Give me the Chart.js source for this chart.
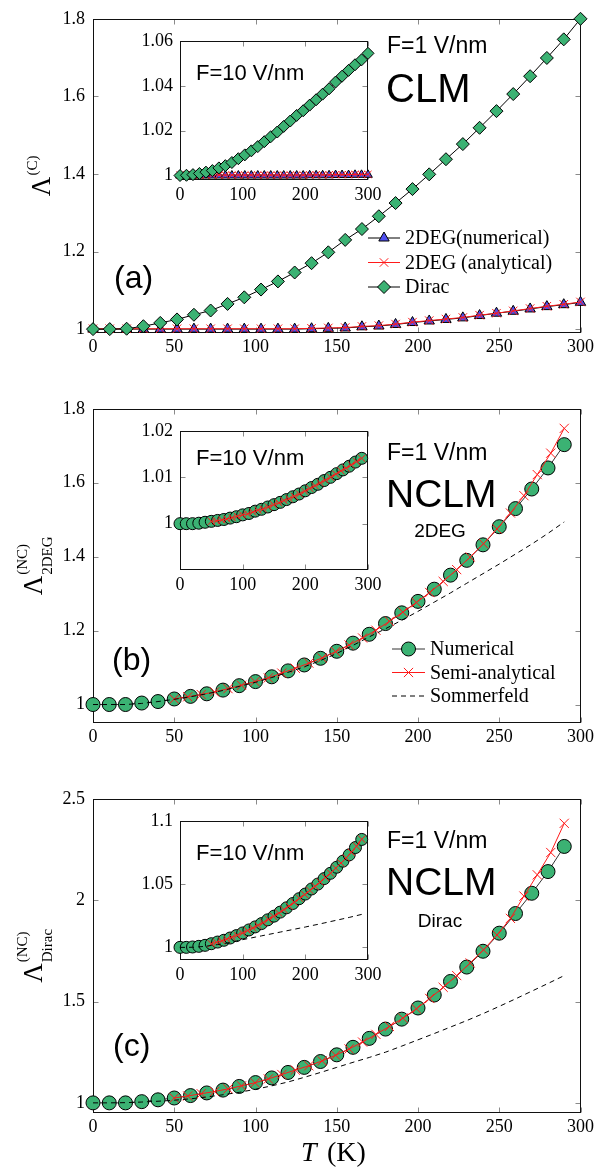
<!DOCTYPE html>
<html lang="en">
<head>
<meta charset="UTF-8">
<title>Lambda vs T</title>
<script src="https://cdn.jsdelivr.net/npm/chart.js"></script>
<style>
  body { margin: 0; background: #fff; }
  #figure { position: relative; width: 597px; height: 1174px; overflow: hidden; }
  #figure canvas { position: absolute; }
</style>
</head>
<body>
<div id="figure">
  <canvas id="clm"></canvas>
  <canvas id="nclm-2deg"></canvas>
  <canvas id="nclm-dirac"></canvas>
  <canvas id="clm-inset"></canvas>
  <canvas id="nclm-2deg-inset"></canvas>
  <canvas id="nclm-dirac-inset"></canvas>
</div>
<script>
// temperature grids (K)
const tempClm = [0, 10.3, 20.7, 31.0, 41.4, 51.7, 62.1, 72.4, 82.8, 93.1, 103.4, 113.8, 124.1, 134.5, 144.8,
  155.2, 165.5, 175.9, 186.2, 196.6, 206.9, 217.2, 227.6, 237.9, 248.3, 258.6, 269.0, 279.3, 289.7, 300];
const tempNum = [0, 10, 20, 30, 40, 50, 60, 70, 80, 90, 100, 110, 120, 130, 140,
  150, 160, 170, 180, 190, 200, 210, 220, 230, 240, 250, 260, 270, 280, 290];
const tempSemi = [50, 58.3, 66.6, 74.8, 83.1, 91.4, 99.7, 107.9, 116.2, 124.5, 132.8, 141.0, 149.3, 157.6, 165.9,
  174.1, 182.4, 190.7, 199.0, 207.2, 215.5, 223.8, 232.1, 240.3, 248.6, 256.9, 265.2, 273.4, 281.7, 290];

// (a) CLM, F = 1 V/nm
const clm2degNumF1 = [1.000, 1.000, 1.000, 1.000, 1.000, 1.000, 1.000, 1.000, 1.000, 1.000, 1.000, 1.000, 1.000, 1.001, 1.002,
  1.003, 1.006, 1.008, 1.012, 1.017, 1.021, 1.025, 1.029, 1.035, 1.041, 1.046, 1.052, 1.058, 1.063, 1.069];
const clm2degAnaF1 = [1.001, 1.001, 1.001, 1.001, 1.001, 1.001, 1.001, 1.001, 1.001, 1.001, 1.001, 1.001, 1.001, 1.002, 1.003,
  1.004, 1.007, 1.009, 1.013, 1.018, 1.022, 1.026, 1.030, 1.036, 1.041, 1.047, 1.053, 1.059, 1.064, 1.070];
const clmDiracF1 = [1.000, 1.000, 1.001, 1.0075, 1.016, 1.025, 1.037, 1.048, 1.065, 1.082, 1.102, 1.123, 1.146, 1.170, 1.198,
  1.230, 1.258, 1.291, 1.325, 1.361, 1.399, 1.438, 1.477, 1.519, 1.562, 1.606, 1.652, 1.699, 1.747, 1.800];
// (a) inset, F = 10 V/nm
const clm2degNumF10 = [1.0000, 1.0000, 1.0000, 1.0000, 1.0000, 1.0000, 1.0000, 1.0000, 1.0000, 1.0000, 1.0000, 1.0000, 1.0000, 1.0000, 1.0000,
  1.0000, 1.0000, 1.0000, 1.0000, 1.0000, 1.0001, 1.0001, 1.0001, 1.0001, 1.0002, 1.0002, 1.0002, 1.0003, 1.0003, 1.0003];
const clm2degAnaF10 = [1.0002, 1.0002, 1.0002, 1.0002, 1.0002, 1.0002, 1.0002, 1.0002, 1.0002, 1.0002, 1.0002, 1.0002, 1.0002, 1.0002, 1.0002,
  1.0002, 1.0002, 1.0002, 1.0002, 1.0002, 1.0003, 1.0003, 1.0003, 1.0003, 1.0004, 1.0004, 1.0004, 1.0005, 1.0005, 1.0005];
const clmDiracF10 = [1.0000, 1.0001, 1.0004, 1.0009, 1.0015, 1.0022, 1.0034, 1.0044, 1.0058, 1.0075, 1.0092, 1.0110, 1.0129, 1.0151, 1.0173,
  1.0194, 1.0219, 1.0243, 1.0268, 1.0289, 1.0314, 1.0338, 1.0363, 1.0387, 1.0417, 1.0443, 1.0469, 1.0494, 1.0516, 1.0545];

// (b) NCLM 2DEG, F = 1 V/nm
const nc2degNumF1 = [1.000, 1.000, 1.000, 1.004, 1.008, 1.015, 1.022, 1.029, 1.039, 1.051, 1.062, 1.075, 1.091, 1.107, 1.125,
  1.144, 1.166, 1.190, 1.219, 1.248, 1.279, 1.312, 1.350, 1.390, 1.432, 1.481, 1.530, 1.583, 1.640, 1.703];
const nc2degSemiF1 = [1.015, 1.021, 1.027, 1.034, 1.043, 1.052, 1.062, 1.072, 1.085, 1.098, 1.112, 1.126, 1.143, 1.161, 1.180,
  1.201, 1.225, 1.250, 1.276, 1.303, 1.333, 1.365, 1.399, 1.435, 1.475, 1.518, 1.565, 1.622, 1.680, 1.747];
const nc2degSommF1 = [1.000, 1.000, 1.000, 1.003, 1.008, 1.014, 1.021, 1.029, 1.038, 1.049, 1.060, 1.073, 1.087, 1.102, 1.119,
  1.138, 1.160, 1.183, 1.205, 1.228, 1.252, 1.277, 1.302, 1.328, 1.354, 1.380, 1.407, 1.434, 1.463, 1.494];
// (b) inset, F = 10 V/nm
const nc2degNumF10 = [1.0000, 1.0000, 1.0000, 1.0001, 1.0003, 1.0005, 1.0007, 1.0009, 1.0012, 1.0015, 1.0019, 1.0022, 1.0027, 1.0031, 1.0036,
  1.0041, 1.0046, 1.0052, 1.0058, 1.0064, 1.0071, 1.0078, 1.0085, 1.0093, 1.0100, 1.0108, 1.0116, 1.0124, 1.0133, 1.0141];
const nc2degSemiF10 = [1.0005, 1.0006, 1.0008, 1.0010, 1.0013, 1.0016, 1.0019, 1.0021, 1.0025, 1.0029, 1.0032, 1.0036, 1.0041, 1.0045, 1.0050,
  1.0054, 1.0059, 1.0064, 1.0070, 1.0076, 1.0082, 1.0088, 1.0094, 1.0100, 1.0107, 1.0114, 1.0120, 1.0127, 1.0134, 1.0141];

// (c) NCLM Dirac, F = 1 V/nm
const ncDiracNumF1 = [1.000, 1.000, 1.000, 1.006, 1.015, 1.024, 1.036, 1.049, 1.063, 1.081, 1.100, 1.123, 1.150, 1.175, 1.204,
  1.237, 1.274, 1.318, 1.364, 1.413, 1.468, 1.532, 1.599, 1.670, 1.748, 1.837, 1.934, 2.034, 2.141, 2.265];
const ncDiracSemiF1 = [1.024, 1.034, 1.045, 1.056, 1.069, 1.084, 1.099, 1.118, 1.140, 1.162, 1.183, 1.207, 1.235, 1.266, 1.300,
  1.338, 1.377, 1.418, 1.464, 1.515, 1.570, 1.628, 1.690, 1.755, 1.828, 1.910, 2.020, 2.125, 2.235, 2.379];
const ncDiracSommF1 = [1.000, 1.000, 1.001, 1.004, 1.008, 1.013, 1.020, 1.029, 1.040, 1.052, 1.067, 1.084, 1.103, 1.126, 1.150,
  1.175, 1.200, 1.224, 1.250, 1.280, 1.311, 1.342, 1.374, 1.406, 1.440, 1.476, 1.513, 1.551, 1.589, 1.628];
// (c) inset, F = 10 V/nm
const ncDiracNumF10 = [1.0000, 1.0000, 1.0003, 1.0008, 1.0016, 1.0029, 1.0042, 1.0056, 1.0074, 1.0093, 1.0114, 1.0138, 1.0162, 1.0188, 1.0218,
  1.0247, 1.0279, 1.0313, 1.0347, 1.0385, 1.0422, 1.0462, 1.0501, 1.0544, 1.0586, 1.0634, 1.0682, 1.0732, 1.0790, 1.0854];
const ncDiracSemiF10 = [1.0029, 1.0040, 1.0051, 1.0065, 1.0080, 1.0096, 1.0113, 1.0133, 1.0153, 1.0174, 1.0196, 1.0221, 1.0245, 1.0271, 1.0299,
  1.0327, 1.0356, 1.0388, 1.0418, 1.0451, 1.0483, 1.0517, 1.0553, 1.0587, 1.0627, 1.0667, 1.0708, 1.0752, 1.0800, 1.0856];
const ncDiracSommF10 = [1.0000, 1.0000, 1.0001, 1.0004, 1.0008, 1.0015, 1.0022, 1.0030, 1.0039, 1.0050, 1.0061, 1.0071, 1.0081, 1.0091, 1.0101,
  1.0111, 1.0121, 1.0131, 1.0141, 1.0151, 1.0161, 1.0172, 1.0182, 1.0193, 1.0204, 1.0215, 1.0226, 1.0237, 1.0249, 1.0261];

// tick positions
const xTicksMain = [0, 50, 100, 150, 200, 250, 300];
const xTicksInset = [0, 100, 200, 300];
const yTicksClm = [1, 1.2, 1.4, 1.6, 1.8];
const yTicksClmInset = [1, 1.02, 1.04, 1.06];
const yTicks2deg = [1, 1.2, 1.4, 1.6, 1.8];
const yTicks2degInset = [1, 1.01, 1.02];
const yTicksDirac = [1, 1.5, 2, 2.5];
const yTicksDiracInset = [1, 1.05, 1.1];

const SERIF = '"Liberation Serif", "Times New Roman", serif';
const SANS = '"Liberation Sans", Arial, Helvetica, sans-serif';
const GREEN = '#3bb273';
const BLUE = '#4f4ff0';
const RED = '#ff1a1a';

function series(xs, ys) {
  return xs.map((x, i) => ({ x: x, y: ys[i] }));
}

// pgfplots-style box with inward ticks on all four sides
const framePlugin = {
  id: 'frame',
  beforeDraw(chart, args, opts) {
    if (!opts.fill) return;
    const { ctx, chartArea: a } = chart;
    ctx.save();
    ctx.fillStyle = '#fff';
    ctx.fillRect(a.left, a.top, a.right - a.left, a.bottom - a.top);
    ctx.restore();
  },
  beforeDatasetsDraw(chart, args, opts) {
    const { ctx, chartArea: a, scales } = chart;
    const len = opts.tickLength || 4;
    const L = Math.round(a.left) + 0.5, R = Math.round(a.right) - 0.5;
    const T = Math.round(a.top) + 0.5, B = Math.round(a.bottom) - 0.5;
    ctx.save();
    ctx.lineWidth = 1;
    ctx.strokeStyle = '#8a8a8a';
    ctx.beginPath();
    scales.x.ticks.forEach(t => {
      const px = Math.round(scales.x.getPixelForValue(t.value)) + 0.5;
      ctx.moveTo(px, B); ctx.lineTo(px, B - len);
      ctx.moveTo(px, T); ctx.lineTo(px, T + len);
    });
    scales.y.ticks.forEach(t => {
      const py = Math.round(scales.y.getPixelForValue(t.value)) + 0.5;
      ctx.moveTo(L, py); ctx.lineTo(L + len, py);
      ctx.moveTo(R, py); ctx.lineTo(R - len, py);
    });
    ctx.stroke();
    ctx.strokeStyle = '#111';
    ctx.strokeRect(L, T, R - L, B - T);
    ctx.restore();
  }
};

// free text placed in canvas pixels
const notesPlugin = {
  id: 'notes',
  afterDraw(chart, args, opts) {
    const ctx = chart.ctx;
    (opts.items || []).forEach(n => {
      ctx.save();
      ctx.font = n.font;
      ctx.fillStyle = '#000';
      ctx.textAlign = n.align || 'left';
      ctx.textBaseline = 'alphabetic';
      ctx.fillText(n.text, n.x, n.y);
      ctx.restore();
    });
  }
};

// rotated Λ with super/subscript
const yTitlePlugin = {
  id: 'yTitle',
  afterDraw(chart, args, o) {
    if (!o.sup) return;
    const ctx = chart.ctx, a = chart.chartArea;
    ctx.save();
    ctx.translate(o.x, (a.top + a.bottom) / 2);
    ctx.rotate(-Math.PI / 2);
    ctx.fillStyle = '#000';
    ctx.textBaseline = 'alphabetic';
    const big = o.size + 'px ' + SERIF, small = o.small + 'px ' + SERIF;
    ctx.font = big;
    const wL = ctx.measureText('Λ').width;
    ctx.font = small;
    const wS = Math.max(ctx.measureText(o.sup).width, o.sub ? ctx.measureText(o.sub).width : 0);
    const x0 = -(wL + 1 + wS) / 2;
    ctx.font = big;
    ctx.fillText('Λ', x0, 0);
    ctx.font = small;
    ctx.fillText(o.sup, x0 + wL + 1, -o.rise);
    if (o.sub) ctx.fillText(o.sub, x0 + wL + 1, o.drop);
    ctx.restore();
  }
};

// legend rows drawn from the datasets themselves
const keyPlugin = {
  id: 'key',
  afterDraw(chart, args, o) {
    if (!o.rows) return;
    const ctx = chart.ctx;
    chart.data.datasets.forEach((ds, i) => {
      const y = o.y + i * o.step;
      ctx.save();
      ctx.strokeStyle = ds.borderColor;
      ctx.lineWidth = ds.borderWidth;
      ctx.setLineDash(ds.borderDash || []);
      ctx.beginPath();
      ctx.moveTo(o.x0, y);
      ctx.lineTo(o.x1, y);
      ctx.stroke();
      ctx.setLineDash([]);
      if (ds.pointRadius > 0) {
        ctx.fillStyle = ds.pointBackgroundColor;
        ctx.strokeStyle = ds.pointBorderColor;
        ctx.lineWidth = ds.pointBorderWidth;
        Chart.helpers.drawPoint(ctx, { pointStyle: ds.pointStyle, radius: ds.pointRadius, borderWidth: ds.pointBorderWidth },
          (o.x0 + o.x1) / 2, y);
      }
      ctx.font = o.font;
      ctx.fillStyle = '#000';
      ctx.textBaseline = 'middle';
      ctx.fillText(ds.label, o.textX, y + 1);
      ctx.restore();
    });
  }
};

function axis(min, max, ticks, pad, fit) {
  return {
    type: 'linear',
    min: min,
    max: max,
    afterBuildTicks: s => { s.ticks = ticks.map(v => ({ value: v })); },
    afterFit: fit,
    grid: { display: false, drawTicks: false },
    border: { display: false },
    ticks: {
      padding: pad,
      color: '#000',
      font: { family: SERIF, size: 18 },
      callback: v => String(v)
    }
  };
}

function place(id, left, top, w, h) {
  const c = document.getElementById(id);
  c.width = w;
  c.height = h;
  c.style.left = left + 'px';
  c.style.top = top + 'px';
  return c;
}

// main panel: plot box from x 93 to 581, y 13 to 333 of its canvas
function mainPanel(id, top, height, yMin, yMax, yTicks, datasets, plugins) {
  const c = place(id, 0, top, 597, height);
  return new Chart(c, {
    type: 'line',
    data: { datasets: datasets },
    options: {
      responsive: false,
      animation: false,
      events: [],
      layout: { padding: { top: 13, right: 16, left: 0, bottom: 0 } },
      scales: {
        x: axis(0, 300, xTicksMain, 3, s => { s.height = height - 333; }),
        y: axis(yMin, yMax, yTicks, 8, s => { s.width = 93; })
      },
      plugins: Object.assign({ legend: { display: false }, tooltip: { enabled: false }, frame: { tickLength: 5 } }, plugins)
    },
    plugins: [framePlugin, notesPlugin, yTitlePlugin, keyPlugin]
  });
}

// inset: plot box from x 180 to 368 and 139 px tall
function insetPanel(id, top, yMin, yMax, yTicks, datasets, label) {
  const c = place(id, 120, top, 268, 190);
  return new Chart(c, {
    type: 'line',
    data: { datasets: datasets },
    options: {
      responsive: false,
      animation: false,
      events: [],
      layout: { padding: { top: 20, right: 20, left: 0, bottom: 0 } },
      scales: {
        x: axis(0, 300, xTicksInset, 4, s => { s.height = 31; }),
        y: axis(yMin, yMax, yTicks, 7, s => { s.width = 60; })
      },
      plugins: {
        legend: { display: false },
        tooltip: { enabled: false },
        frame: { fill: true, tickLength: 5 },
        notes: { items: [{ text: 'F=10 V/nm', x: 76, y: label, font: '22px ' + SANS }] }
      }
    },
    plugins: [framePlugin, notesPlugin]
  });
}

function lineSet(label, xs, ys, o) {
  return Object.assign({
    label: label,
    data: series(xs, ys),
    borderColor: '#000',
    borderWidth: 1,
    pointRadius: 0,
    pointBorderColor: '#000',
    pointBorderWidth: 1,
    pointBackgroundColor: GREEN,
    tension: 0,
    clip: false
  }, o);
}

function numSet(xs, ys, r, lw) {
  return lineSet('Numerical', xs, ys, { pointStyle: 'circle', pointRadius: r, borderWidth: lw, borderColor: '#333', order: 3 });
}
function semiSet(xs, ys, r) {
  return lineSet('Semi-analytical', xs, ys, { pointStyle: 'crossRot', pointRadius: r, borderColor: RED,
    pointBorderColor: RED, pointBorderWidth: 1, pointBackgroundColor: RED, order: 2 });
}
function sommSet(xs, ys) {
  return lineSet('Sommerfeld', xs, ys, { borderDash: [5, 4], borderWidth: 1, order: 1 });
}

// (a)
mainPanel('clm', 0, 380, 0.99, 1.8, yTicksClm, [
  lineSet('2DEG(numerical)', tempClm, clm2degNumF1, { pointStyle: 'triangle', pointRadius: 6, pointBackgroundColor: BLUE, order: 3 }),
  lineSet('2DEG (analytical)', tempClm, clm2degAnaF1, { pointStyle: 'crossRot', pointRadius: 6, borderColor: RED,
    pointBorderColor: RED, pointBorderWidth: 1, pointBackgroundColor: RED, order: 2 }),
  lineSet('Dirac', tempClm, clmDiracF1, { pointStyle: 'rectRot', pointRadius: 6.5, order: 1 })
], {
  yTitle: { x: 50, size: 27, small: 15, sup: '(C)', rise: 13 },
  key: { rows: true, x0: 368, x1: 400, textX: 405, y: 238, step: 24.5, font: '20px ' + SERIF },
  notes: { items: [
    { text: 'F=1 V/nm', x: 387, y: 53, font: '23px ' + SANS },
    { text: 'CLM', x: 386, y: 102, font: '40px ' + SANS },
    { text: '(a)', x: 114, y: 288, font: '32px ' + SANS }
  ] }
});

// (b)
mainPanel('nclm-2deg', 390, 380, 0.95, 1.8, yTicks2deg, [
  numSet(tempNum, nc2degNumF1, 7, 1),
  semiSet(tempSemi, nc2degSemiF1, 6.5),
  sommSet(tempNum, nc2degSommF1)
], {
  yTitle: { x: 42, size: 27, small: 15, sup: '(NC)', rise: 15, sub: '2DEG', drop: 10 },
  key: { rows: true, x0: 392, x1: 425, textX: 430, y: 259, step: 23.5, font: '20px ' + SERIF },
  notes: { items: [
    { text: 'F=1 V/nm', x: 387, y: 70, font: '23px ' + SANS },
    { text: 'NCLM', x: 386, y: 117, font: '39px ' + SANS },
    { text: '2DEG', x: 440, y: 147, font: '19px ' + SANS, align: 'center' },
    { text: '(b)', x: 112, y: 280, font: '32px ' + SANS }
  ] }
});

// (c)
mainPanel('nclm-dirac', 780, 394, 0.95, 2.5, yTicksDirac, [
  numSet(tempNum, ncDiracNumF1, 7, 1),
  semiSet(tempSemi, ncDiracSemiF1, 6.5),
  sommSet(tempNum, ncDiracSommF1)
], {
  yTitle: { x: 42, size: 27, small: 15, sup: '(NC)', rise: 15, sub: 'Dirac', drop: 10 },
  notes: { items: [
    { text: 'F=1 V/nm', x: 387, y: 68, font: '23px ' + SANS },
    { text: 'NCLM', x: 386, y: 115, font: '39px ' + SANS },
    { text: 'Dirac', x: 440, y: 147, font: '19px ' + SANS, align: 'center' },
    { text: '(c)', x: 113, y: 276, font: '32px ' + SANS },
    { text: 'T', x: 301, y: 381, font: 'italic 28px ' + SERIF },
    { text: '(K)', x: 327, y: 381, font: '28px ' + SERIF }
  ] }
});

// insets, F = 10 V/nm
insetPanel('clm-inset', 21, 0.998, 1.06, yTicksClmInset, [
  lineSet('2DEG(numerical)', tempClm, clm2degNumF10, { pointStyle: 'triangle', pointRadius: 5, pointBackgroundColor: BLUE, borderWidth: 0.8, order: 3 }),
  lineSet('2DEG (analytical)', tempClm, clm2degAnaF10, { pointStyle: 'crossRot', pointRadius: 5, borderColor: RED,
    pointBorderColor: RED, pointBorderWidth: 1, pointBackgroundColor: RED, order: 2 }),
  lineSet('Dirac', tempClm, clmDiracF10, { pointStyle: 'rectRot', pointRadius: 6, borderWidth: 0.8, order: 1 })
], 59);

insetPanel('nclm-2deg-inset', 411, 0.99, 1.02, yTicks2degInset, [
  numSet(tempNum, nc2degNumF10, 6, 0.8),
  semiSet(tempSemi, nc2degSemiF10, 5)
], 54);

insetPanel('nclm-dirac-inset', 801, 0.99, 1.1, yTicksDiracInset, [
  numSet(tempNum, ncDiracNumF10, 6, 0.8),
  semiSet(tempSemi, ncDiracSemiF10, 5),
  sommSet(tempNum, ncDiracSommF10)
], 59);
</script>
</body>
</html>
